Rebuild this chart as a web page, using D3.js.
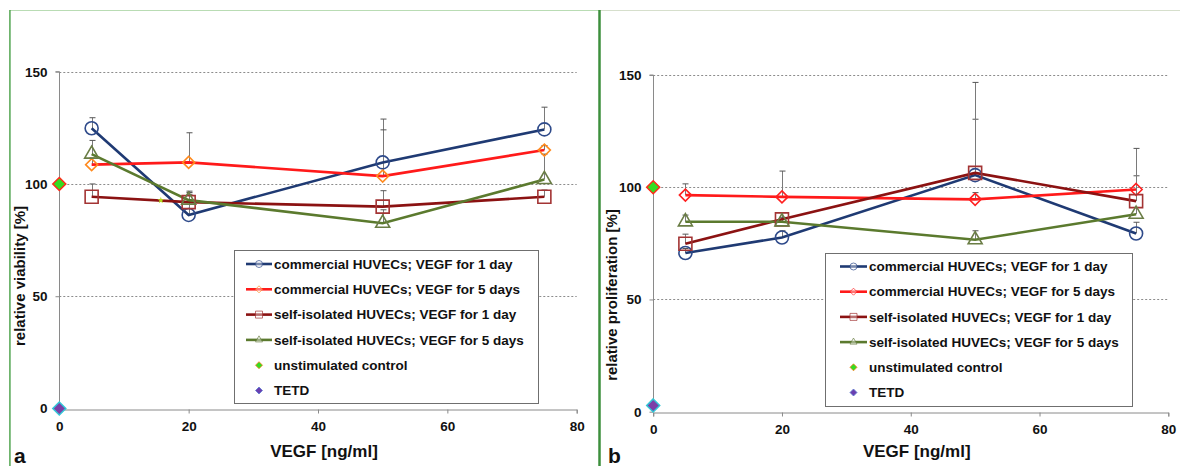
<!DOCTYPE html>
<html>
<head>
<meta charset="utf-8">
<script src="https://cdn.jsdelivr.net/npm/d3@7"></script>
<style>
	body { margin: 0; background: #fff; }
	text { font-family: "Liberation Sans", Arial, sans-serif; }
</style>
</head>
<body>
<svg id="chart" width="1180" height="466"></svg>
<script>
const doses = [5, 20, 50, 75];
const xTicks = [0, 20, 40, 60, 80];
const yTicks = [0, 50, 100, 150];
const seriesNames = [
	"commercial HUVECs; VEGF for 1 day",
	"commercial HUVECs; VEGF for 5 days",
	"self-isolated HUVECs; VEGF for 1 day",
	"self-isolated HUVECs; VEGF for 5 days",
];
const controlNames = ["unstimulated control", "TETD"];

// panel a: relative viability [%]
const viaComm1 = [124.8, 86.2, 109.6, 124.3];
const viaComm5 = [108.6, 109.6, 103.5, 115.1];
const viaSelf1 = [94.3, 91.9, 89.9, 94.3];
const viaSelf5 = [113.3, 92.8, 82.5, 102.0];
const viaComm1Err = [4.7, 10.0, 19.3, 9.9];
const viaComm5Err = [3.0, 13.2, 20.6, 2.0];
const viaSelf1Err = [5.7, 3.5, 7.1, 3.0];
const viaSelf5Err = [6.1, 4.0, 6.0, 11.3];
const viaControl = [100, 0]; // unstimulated control, TETD (at 0 ng/ml)
const viaStray = [[15.7, 92.7]];

// panel b: relative proliferation [%]
const proComm1 = [70.7, 77.6, 105.4, 79.4];
const proComm5 = [96.5, 95.7, 94.6, 99.0];
const proSelf1 = [74.8, 85.7, 106.4, 93.8];
const proSelf5 = [84.6, 84.6, 76.6, 88.0];
const proComm1Err = [2.0, 3.0, 24.9, 5.0];
const proComm5Err = [5.0, 11.5, 3.0, 6.1];
const proSelf1Err = [4.3, 3.0, 40.3, 23.5];
const proSelf5Err = [3.0, 2.0, 4.0, 3.0];
const proControl = [100, 2.8];

const LINE_COLORS = ["#1f3a73", "#ff1a1a", "#8b1212", "#5b7a2e"];
const SHAPES = ["circle", "diamond", "square", "triangle"];

const panels = [
	{
		left: 59.3, right: 576.7, top: 71.7, bottom: 408.5,
		label: "a", labelX: 14, ylabel: "relative viability [%]", ylabelX: 20, ylabelY: 276,
		means: [viaComm1, viaComm5, viaSelf1, viaSelf5],
		errs: [viaComm1Err, viaComm5Err, viaSelf1Err, viaSelf5Err],
		control: viaControl, stray: viaStray,
		markerColors: ["#2e4a8a", "#ff8a1e", "#a33434", "#6a7d45"],
		legend: { x: 234, y: 250, w: 304, h: 153, first: 264, step: 25.3, sx: 246, ex: 272 },
	},
	{
		left: 653.2, right: 1168.3, top: 75, bottom: 411.7,
		label: "b", labelX: 608, ylabel: "relative proliferation [%]", ylabelX: 612, ylabelY: 295,
		means: [proComm1, proComm5, proSelf1, proSelf5],
		errs: [proComm1Err, proComm5Err, proSelf1Err, proSelf5Err],
		control: proControl, stray: [],
		markerColors: ["#2e4a8a", "#ff2020", "#a33434", "#6a7d45"],
		legend: { x: 825, y: 253, w: 307, h: 153, first: 266.5, step: 25.2, sx: 840, ex: 867 },
	},
];

const svg = d3.select("#chart");

// panel frames
svg.append("rect").attr("x", 9.5).attr("y", 10.5).attr("width", 590).attr("height", 470)
	.attr("fill", "none").attr("stroke", "#b9dcb4");
svg.append("line").attr("x1", 10).attr("x2", 10).attr("y1", 10).attr("y2", 466)
	.attr("stroke", "#3f9a3f").attr("stroke-width", 1.2);
svg.append("line").attr("x1", 600).attr("x2", 1180).attr("y1", 10.5).attr("y2", 10.5)
	.attr("stroke", "#d6dfcc");
svg.append("line").attr("x1", 599.5).attr("x2", 599.5).attr("y1", 10).attr("y2", 466)
	.attr("stroke", "#3d8f3d").attr("stroke-width", 2.5);

function markerPath(shape, s) {
	if (shape === "circle") return d3.symbol(d3.symbolCircle, Math.PI * s * s / 4)();
	if (shape === "square") return d3.symbol(d3.symbolSquare, s * s)();
	if (shape === "triangle") return d3.symbol(d3.symbolTriangle, Math.sqrt(3) / 4 * s * s)();
	// diamond: square rotated by 45 deg
	const h = s / 2;
	return `M0,${-h}L${h},0L0,${h}L${-h},0Z`;
}

panels.forEach((p) => {
	const x = d3.scaleLinear().domain([0, 80]).range([p.left, p.right]);
	const y = d3.scaleLinear().domain([0, 150]).range([p.bottom, p.top]);
	const g = svg.append("g");

	// gridlines
	g.selectAll(".grid").data(yTicks.filter((d) => d > 0)).enter().append("line")
		.attr("x1", x(0)).attr("x2", x(80))
		.attr("y1", (d) => Math.round(y(d)) + 0.5).attr("y2", (d) => Math.round(y(d)) + 0.5)
		.attr("stroke", "#8c8c8c").attr("stroke-dasharray", "2,2");

	// axes
	const yAxis = g.append("g").attr("transform", `translate(${Math.round(x(0)) + 0.5},0)`)
		.call(d3.axisLeft(y).tickValues(yTicks).tickSize(4).tickPadding(8));
	const xAxis = g.append("g").attr("transform", `translate(0,${Math.round(y(0)) + 0.5})`)
		.call(d3.axisBottom(x).tickValues(xTicks).tickSize(4).tickPadding(8));
	[xAxis, yAxis].forEach((a) => {
		a.select(".domain").attr("stroke", "#8a8a8a");
		a.selectAll(".tick line").attr("stroke", "#8a8a8a");
		a.selectAll(".tick text").attr("fill", "#111").style("font-size", "13.5px").style("font-weight", "bold");
	});
	yAxis.select(".domain").attr("d", `M-4,${y(150)}H0V${y(0)}`);

	// error bars (upper only)
	p.means.forEach((m, si) => {
		m.forEach((v, i) => {
			const top = v + p.errs[si][i];
			const cx = Math.round(x(doses[i])) + 0.5;
			g.append("line").attr("x1", cx).attr("x2", cx).attr("y1", y(v)).attr("y2", y(top))
				.attr("stroke", "#7a7a7a").attr("stroke-width", 1);
			g.append("line").attr("x1", cx - 3).attr("x2", cx + 3).attr("y1", y(top)).attr("y2", y(top))
				.attr("stroke", "#555").attr("stroke-width", 1);
		});
	});

	// series lines
	const line = d3.line().x((d, i) => x(doses[i])).y((d) => y(d));
	p.means.forEach((m, si) => {
		g.append("path").attr("d", line(m)).attr("fill", "none")
			.attr("stroke", LINE_COLORS[si]).attr("stroke-width", 2.6);
	});

	// markers
	const sizes = { circle: 13, diamond: 12, square: 13, triangle: 14 };
	p.means.forEach((m, si) => {
		g.selectAll(null).data(m).enter().append("path")
			.attr("d", markerPath(SHAPES[si], sizes[SHAPES[si]]))
			.attr("transform", (d, i) => `translate(${x(doses[i])},${y(d)})`)
			.attr("fill", "none").attr("stroke", p.markerColors[si]).attr("stroke-width", 1.6);
	});

	// controls at 0 ng/ml
	g.append("path").attr("d", markerPath("diamond", 13))
		.attr("transform", `translate(${x(0)},${y(p.control[0])})`)
		.attr("fill", "#33dd22").attr("stroke", "#ff2a1a").attr("stroke-width", 1.5);
	g.append("path").attr("d", markerPath("diamond", 13))
		.attr("transform", `translate(${x(0)},${y(p.control[1])})`)
		.attr("fill", "#7b3fa8").attr("stroke", "#33c6d6").attr("stroke-width", 1.5);

	p.stray.forEach((d) => {
		g.append("path").attr("d", d3.symbol(d3.symbolStar, 14)())
			.attr("transform", `translate(${x(d[0])},${y(d[1])})`).attr("fill", "#b9dd22");
	});

	// legend
	const L = p.legend;
	const lg = g.append("g");
	lg.append("rect").attr("x", L.x + 0.5).attr("y", L.y + 0.5).attr("width", L.w).attr("height", L.h)
		.attr("fill", "#fff").attr("stroke", "#6f6f6f");
	seriesNames.forEach((name, si) => {
		const ly = L.first + si * L.step;
		lg.append("line").attr("x1", L.sx).attr("x2", L.ex).attr("y1", ly).attr("y2", ly)
			.attr("stroke", LINE_COLORS[si]).attr("stroke-width", 2.6);
		lg.append("path").attr("d", markerPath(SHAPES[si], 7))
			.attr("transform", `translate(${(L.sx + L.ex) / 2},${ly})`)
			.attr("fill", "#fff").attr("fill-opacity", 0.4)
			.attr("stroke", p.markerColors[si]).attr("stroke-opacity", 0.7).attr("stroke-width", 1);
		lg.append("text").attr("x", L.ex + 2).attr("y", ly).attr("dy", "0.35em")
			.style("font-size", "13.5px").style("font-weight", "bold").attr("fill", "#111").text(name);
	});
	controlNames.forEach((name, ci) => {
		const ly = L.first + (4 + ci) * L.step;
		lg.append("path").attr("d", markerPath("diamond", 7))
			.attr("transform", `translate(${(L.sx + L.ex) / 2},${ly})`)
			.attr("fill", ci === 0 ? "#33dd22" : "#6a3fb0")
			.attr("stroke", ci === 0 ? "#ff7a1a" : "#5a7ad0").attr("stroke-width", 0.8);
		lg.append("text").attr("x", L.ex + 2).attr("y", ly).attr("dy", "0.35em")
			.style("font-size", "13.5px").style("font-weight", "bold").attr("fill", "#111").text(name);
	});

	// axis titles and panel letter
	g.append("text").attr("x", (x(0) + x(80)) / 2 + 6).attr("y", 451).attr("dy", "0.35em")
		.attr("text-anchor", "middle").style("font-size", "17px").style("font-weight", "bold")
		.attr("fill", "#111").text("VEGF [ng/ml]");
	g.append("text").attr("transform", `translate(${p.ylabelX},${p.ylabelY}) rotate(-90)`)
		.attr("text-anchor", "middle").attr("dy", "0.35em")
		.style("font-size", "15px").style("font-weight", "bold").attr("fill", "#111").text(p.ylabel);
	g.append("text").attr("x", p.labelX).attr("y", 463)
		.style("font-size", "21px").style("font-weight", "bold").attr("fill", "#111").text(p.label);
});
</script>
</body>
</html>
